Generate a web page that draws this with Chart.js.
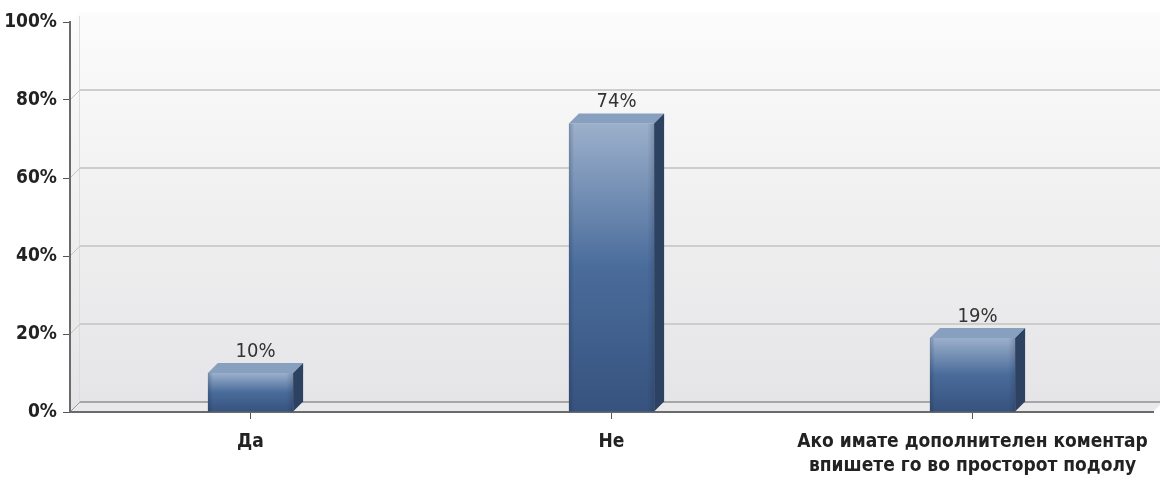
<!DOCTYPE html>
<html>
<head>
<meta charset="utf-8">
<script src="https://cdn.jsdelivr.net/npm/chart.js@4"></script>
<style>
  html, body { margin: 0; padding: 0; background: #fff; }
  #wrap { width: 1160px; height: 482px; }
</style>
</head>
<body>
<div id="wrap"><canvas id="survey-chart" width="1160" height="482"></canvas></div>
<script>
const categories = ['Да', 'Не', ['Ако имате дополнителен коментар', 'впишете го во просторот подолу']];
const percentages = [10, 74, 19];
const yTicks = [0, 20, 40, 60, 80, 100];

const FONT = "'Liberation Sans Narrow', 'DejaVu Sans Condensed', 'Arial Narrow', sans-serif";
const DX = 10, DY = 10; // depth of the 3d box

// back wall, side wall, floor and grid, painted behind everything
const wallPlugin = {
  id: 'wall3d',
  beforeDraw(chart) {
    const { ctx, chartArea: a, scales } = chart;
    const y = scales.y;
    ctx.save();

    // back wall
    let g = ctx.createLinearGradient(0, a.top - DY, 0, a.bottom - DY);
    g.addColorStop(0, '#fcfcfc');
    g.addColorStop(0.5, '#f0f0f1');
    g.addColorStop(1, '#e5e5e7');
    ctx.fillStyle = g;
    ctx.fillRect(a.left + DX, a.top - DY, a.right - a.left, a.bottom - a.top);

    // left side wall
    ctx.beginPath();
    ctx.moveTo(a.left, a.top);
    ctx.lineTo(a.left + DX, a.top - DY);
    ctx.lineTo(a.left + DX, a.bottom - DY);
    ctx.lineTo(a.left, a.bottom);
    ctx.closePath();
    ctx.fillStyle = g;
    ctx.fill();
    ctx.strokeStyle = '#dcdcdc';
    ctx.lineWidth = 1;
    ctx.beginPath();
    ctx.moveTo(a.left + DX - 0.5, a.top - DY + 4);
    ctx.lineTo(a.left + DX - 0.5, a.bottom - DY);
    ctx.stroke();

    // floor
    ctx.beginPath();
    ctx.moveTo(a.left, a.bottom);
    ctx.lineTo(a.left + DX, a.bottom - DY);
    ctx.lineTo(a.right + DX, a.bottom - DY);
    ctx.lineTo(a.right, a.bottom);
    ctx.closePath();
    ctx.fillStyle = '#e9e9eb';
    ctx.fill();

    // grid lines on the back wall plus the little diagonals on the side wall
    yTicks.forEach(v => {
      if (v === 100) return;
      const py = y.getPixelForValue(v);
      if (v === 0) {
        ctx.strokeStyle = '#8f8f8f';
        ctx.lineWidth = 1.5;
      } else {
        ctx.strokeStyle = '#cdcdcd';
        ctx.lineWidth = 2;
      }
      ctx.beginPath();
      ctx.moveTo(a.left + DX, py - DY);
      ctx.lineTo(a.right + DX, py - DY);
      ctx.stroke();
      ctx.strokeStyle = v === 0 ? '#9a9a9a' : '#c4c4c4';
      ctx.lineWidth = 1;
      ctx.beginPath();
      ctx.moveTo(a.left, py);
      ctx.lineTo(a.left + DX, py - DY);
      ctx.stroke();
    });
    ctx.restore();
  }
};

// front, top and side faces of each bar plus the value above it
const boxPlugin = {
  id: 'box3d',
  afterDatasetsDraw(chart) {
    const { ctx } = chart;
    const meta = chart.getDatasetMeta(0);
    ctx.save();
    meta.data.forEach((bar, i) => {
      const { x, y, base, width } = bar.getProps(['x', 'y', 'base', 'width'], true);
      const x0 = x - width / 2, x1 = x + width / 2;

      // front face
      let g = ctx.createLinearGradient(0, y, 0, base);
      g.addColorStop(0, '#9cb0cb');
      g.addColorStop(0.5, '#4a6c9b');
      g.addColorStop(1, '#37527e');
      ctx.fillStyle = g;
      ctx.fillRect(x0, y, width, base - y);
      let h = ctx.createLinearGradient(x0, 0, x1, 0);
      h.addColorStop(0, 'rgba(20,35,60,0.25)');
      h.addColorStop(0.06, 'rgba(20,35,60,0)');
      h.addColorStop(0.92, 'rgba(20,35,60,0)');
      h.addColorStop(1, 'rgba(20,35,60,0.2)');
      ctx.fillStyle = h;
      ctx.fillRect(x0, y, width, base - y);

      // top face
      ctx.beginPath();
      ctx.moveTo(x0, y);
      ctx.lineTo(x0 + DX, y - DY);
      ctx.lineTo(x1 + DX, y - DY);
      ctx.lineTo(x1, y);
      ctx.closePath();
      ctx.fillStyle = '#88a0c0';
      ctx.fill();

      // right side face
      ctx.beginPath();
      ctx.moveTo(x1, y);
      ctx.lineTo(x1 + DX, y - DY);
      ctx.lineTo(x1 + DX, base - DY);
      ctx.lineTo(x1, base);
      ctx.closePath();
      ctx.fillStyle = '#2d4160';
      ctx.fill();

      // value label
      ctx.fillStyle = '#333';
      ctx.font = '20px ' + FONT;
      ctx.textAlign = 'center';
      ctx.textBaseline = 'alphabetic';
      ctx.fillText(percentages[i] + '%', x + DX / 2, y - DY - 6);
    });
    ctx.restore();
  }
};

new Chart(document.getElementById('survey-chart'), {
  type: 'bar',
  data: {
    labels: categories,
    datasets: [{
      data: percentages,
      backgroundColor: 'rgba(0,0,0,0)',
      borderWidth: 0,
      categoryPercentage: 1,
      barPercentage: 0.236
    }]
  },
  options: {
    responsive: false,
    animation: false,
    events: [],
    layout: { padding: { top: 22, right: 7, left: 0, bottom: 0 } },
    plugins: { legend: { display: false }, tooltip: { enabled: false } },
    scales: {
      x: {
        grid: { display: true, drawOnChartArea: false, offset: false, tickLength: 7, color: '#555', lineWidth: 1 },
        border: { display: true, color: '#6a6a6a', width: 2 },
        ticks: {
          color: '#222',
          padding: 11,
          maxRotation: 0,
          autoSkip: false,
          font: { family: FONT, size: 19, weight: 'bold', lineHeight: 1.26 }
        },
        afterFit(scale) {
          scale.height = 70;
          scale.paddingLeft = 0;
          scale.paddingRight = 0;
        }
      },
      y: {
        min: 0,
        max: 100,
        afterBuildTicks(scale) { scale.ticks = yTicks.map(v => ({ value: v })); },
        grid: { display: true, drawOnChartArea: false, tickLength: 7, color: '#555', lineWidth: 1 },
        border: { display: true, color: '#6a6a6a', width: 2 },
        ticks: {
          color: '#222',
          padding: 6,
          callback: v => v + '%',
          font: { family: FONT, size: 19, weight: 'bold' }
        },
        afterFit(scale) { scale.width = 70; }
      }
    }
  },
  plugins: [wallPlugin, boxPlugin]
});
</script>
</body>
</html>
